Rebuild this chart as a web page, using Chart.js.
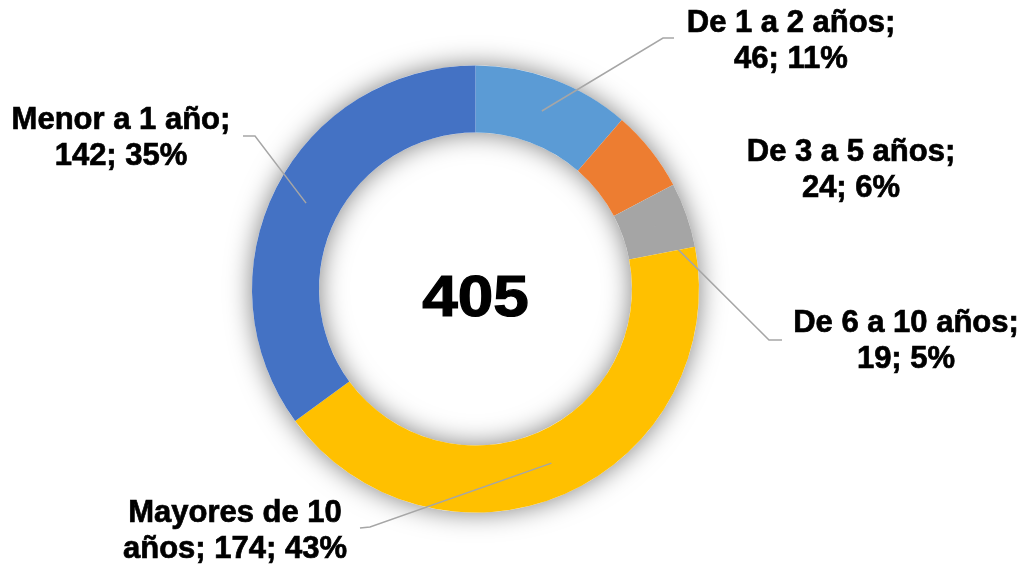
<!DOCTYPE html>
<html>
<head>
<meta charset="utf-8">
<script src="https://cdn.jsdelivr.net/npm/chart.js@4"></script>
<style>
  html, body { margin: 0; padding: 0; background: #fff; }
  #wrap { width: 1030px; height: 568px; }
</style>
</head>
<body>
<div id="wrap"><canvas id="donut" width="1030" height="568"></canvas></div>
<script>
const categories = ['De 1 a 2 años', 'De 3 a 5 años', 'De 6 a 10 años', 'Mayores de 10 años', 'Menor a 1 año'];
const values = [46, 24, 19, 174, 142];
const sliceColors = ['#5B9BD5', '#ED7D31', '#A5A5A5', '#FFC000', '#4472C4'];

// label text lines (split where the original wraps)
const labelLines = [
    ['De 1 a 2 años;', '{v}; {p}%'],
    ['De 3 a 5 años;', '{v}; {p}%'],
    ['De 6 a 10 años;', '{v}; {p}%'],
    ['Mayores de 10', 'años; {v}; {p}%'],
    ['Menor a 1 año;', '{v}; {p}%']
];

// where each label sits (center x, first baseline) and the elbow of its leader line
const labelLayout = [
    { x: 791, y: 32, elbow: [[663, 38], [674, 38]] },
    { x: 851, y: 161, elbow: null },
    { x: 906, y: 332, elbow: [[769, 340], [782, 340]] },
    { x: 235, y: 522, elbow: [[370, 527], [360, 528]] },
    { x: 121, y: 129, elbow: [[255, 136], [243, 136]] }
];

const total = values.reduce((a, b) => a + b, 0);

const ringShadow = {
    id: 'ringShadow',
    beforeDatasetsDraw(chart) {
        const arc = chart.getDatasetMeta(0).data[0];
        if (!arc) return;
        const ctx = chart.ctx;
        ctx.save();
        ctx.shadowColor = 'rgba(0,0,0,0.5)';
        ctx.shadowBlur = 26;
        ctx.fillStyle = '#ffffff';
        ctx.beginPath();
        ctx.arc(arc.x, arc.y, arc.outerRadius, 0, Math.PI * 2);
        ctx.arc(arc.x, arc.y, arc.innerRadius, 0, Math.PI * 2, true);
        ctx.fill();
        ctx.restore();
    }
};

const outsideLabels = {
    id: 'outsideLabels',
    afterDatasetsDraw(chart) {
        const ctx = chart.ctx;
        const arcs = chart.getDatasetMeta(0).data;
        ctx.save();
        arcs.forEach((arc, i) => {
            const lay = labelLayout[i];
            if (lay.elbow) {
                const mid = (arc.startAngle + arc.endAngle) / 2;
                const r = (arc.innerRadius + arc.outerRadius) / 2;
                ctx.strokeStyle = '#A6A6A6';
                ctx.lineWidth = 1.5;
                ctx.beginPath();
                ctx.moveTo(arc.x + Math.cos(mid) * r, arc.y + Math.sin(mid) * r);
                lay.elbow.forEach(p => ctx.lineTo(p[0], p[1]));
                ctx.stroke();
            }
            const pct = Math.round(values[i] / total * 100);
            ctx.fillStyle = '#000';
            ctx.strokeStyle = '#000';
            ctx.lineWidth = 0.7;
            ctx.font = 'bold 31px "Liberation Sans", Arial, sans-serif';
            ctx.textAlign = 'center';
            ctx.textBaseline = 'alphabetic';
            labelLines[i].forEach((t, k) => {
                const s = t.replace('{v}', values[i]).replace('{p}', pct);
                ctx.fillText(s, lay.x, lay.y + k * 36);
                ctx.strokeText(s, lay.x, lay.y + k * 36);
            });
        });
        // total in the hole
        const a0 = arcs[0];
        ctx.translate(a0.x, a0.y + 27);
        ctx.scale(1.12, 1);
        ctx.font = 'bold 57px "Liberation Sans", Arial, sans-serif';
        ctx.textAlign = 'center';
        ctx.lineWidth = 1.2;
        ctx.fillText(String(total), 0, 0);
        ctx.strokeText(String(total), 0, 0);
        ctx.restore();
    }
};

new Chart(document.getElementById('donut'), {
    type: 'doughnut',
    data: {
        labels: categories,
        datasets: [{
            data: values,
            backgroundColor: sliceColors,
            borderWidth: 0
        }]
    },
    options: {
        responsive: false,
        animation: false,
        cutout: '70%',
        layout: { padding: { left: 252, right: 331, top: 65, bottom: 55 } },
        plugins: {
            legend: { display: false },
            tooltip: { enabled: false }
        }
    },
    plugins: [ringShadow, outsideLabels]
});
</script>
</body>
</html>
